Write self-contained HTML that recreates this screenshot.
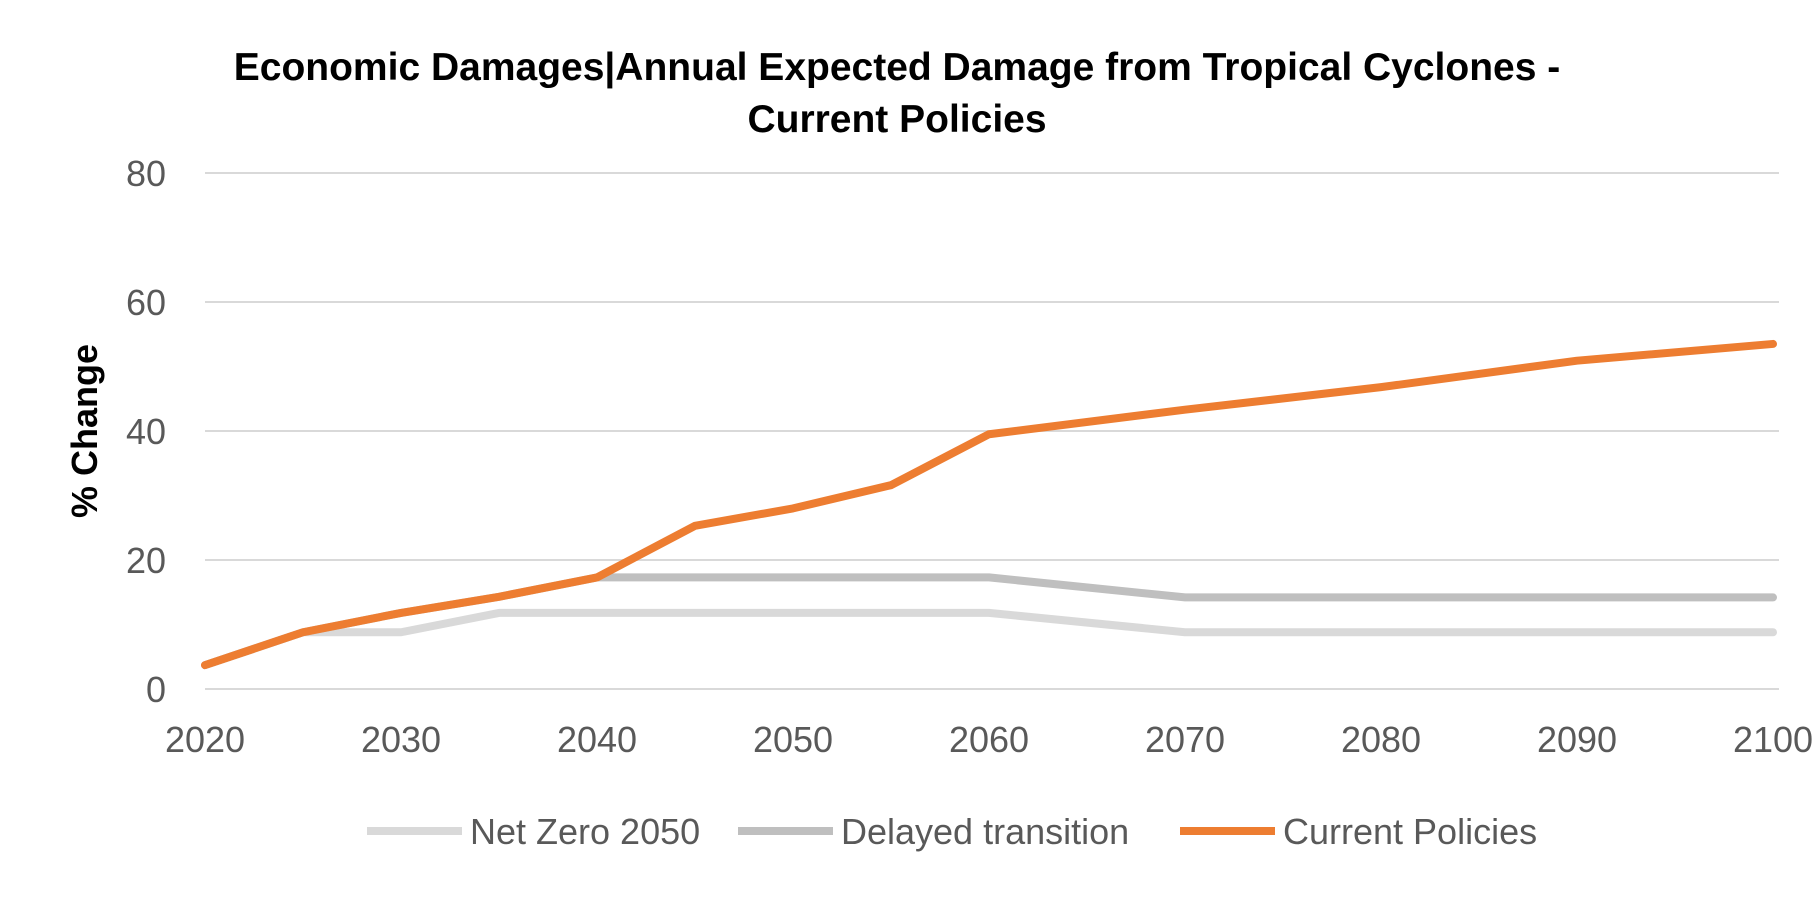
<!DOCTYPE html>
<html><head><meta charset="utf-8">
<style>
html,body{margin:0;padding:0;background:#fff;}
svg{display:block;font-family:"Liberation Sans",Calibri,sans-serif;}
</style></head>
<body>
<svg id="chart" width="1819" height="909" viewBox="0 0 1819 909" xmlns="http://www.w3.org/2000/svg">
<text x="897" y="80" text-anchor="middle" font-size="39" font-weight="bold" fill="#000">Economic Damages|Annual Expected Damage from Tropical Cyclones -</text>
<text x="897" y="132" text-anchor="middle" font-size="39" font-weight="bold" fill="#000">Current Policies</text>
<text transform="translate(97,431) rotate(-90)" text-anchor="middle" font-size="36" font-weight="bold" fill="#000">% Change</text>
<g id="grid"></g><g id="yticks"></g><g id="xticks"></g><g id="series"></g>
<g id="legend"></g>
</svg>
<script>
const years = [2020,2025,2030,2035,2040,2045,2050,2055,2060,2070,2080,2090,2100];
const netZero = [3.7,8.8,8.8,11.8,11.8,11.8,11.8,11.8,11.8,8.8,8.8,8.8,8.8];
const delayed = [3.7,8.8,11.8,14.3,17.3,17.3,17.3,17.3,17.3,14.2,14.2,14.2,14.2];
const current = [3.7,8.8,11.8,14.3,17.3,25.3,28.0,31.6,39.5,43.3,46.8,50.9,53.5];
const yTicks = [0,20,40,60,80];
const xTicks = [2020,2030,2040,2050,2060,2070,2080,2090,2100];
const seriesNames = ["Net Zero 2050","Delayed transition","Current Policies"];
const seriesColors = ["#d9d9d9","#bfbfbf","#ed7d31"];

const NS="http://www.w3.org/2000/svg";
const x0=205,x1=1773,y0=689,y1=173;
const xs=v=>x0+(v-2020)/(2100-2020)*(x1-x0);
const ys=v=>y0-(v-0)/80*(y0-y1);
function mk(t,a,p){const e=document.createElementNS(NS,t);for(const k in a)e.setAttribute(k,a[k]);p.appendChild(e);return e;}
const grid=document.getElementById('grid'),yt=document.getElementById('yticks'),xt=document.getElementById('xticks');
yTicks.forEach(v=>{
  const l=mk('line',{x1:x0,x2:1779,y1:ys(v),y2:ys(v),stroke:'#d9d9d9','stroke-width':2},grid);
  
  
  const t=mk('text',{x:166,y:ys(v)+13,'text-anchor':'end','font-size':36,fill:'#595959'},yt);
  t.textContent=v;
  
  
});
xTicks.forEach(v=>{
  const t=mk('text',{x:xs(v),y:752,'text-anchor':'middle','font-size':36,fill:'#595959'},xt);
  t.textContent=v;
  
  
});
const sg=document.getElementById('series');
[netZero,delayed,current].forEach((s,i)=>{
  const p=mk('polyline',{points:s.map((v,j)=>xs(years[j])+','+ys(v)).join(' '),fill:'none',stroke:seriesColors[i],'stroke-width':8,'stroke-linejoin':'round','stroke-linecap':'round'},sg);
  
  
});
const lg=document.getElementById('legend');
const lx=[367,738,1180];
seriesNames.forEach((n,i)=>{
  const g=mk('g',{},lg);
  
  
  mk('line',{x1:lx[i],x2:lx[i]+95,y1:831,y2:831,stroke:seriesColors[i],'stroke-width':8},g);
  const t=mk('text',{x:lx[i]+103,y:844,'font-size':36,fill:'#595959'},g);
  t.textContent=n;
});
</script>
</body></html>
